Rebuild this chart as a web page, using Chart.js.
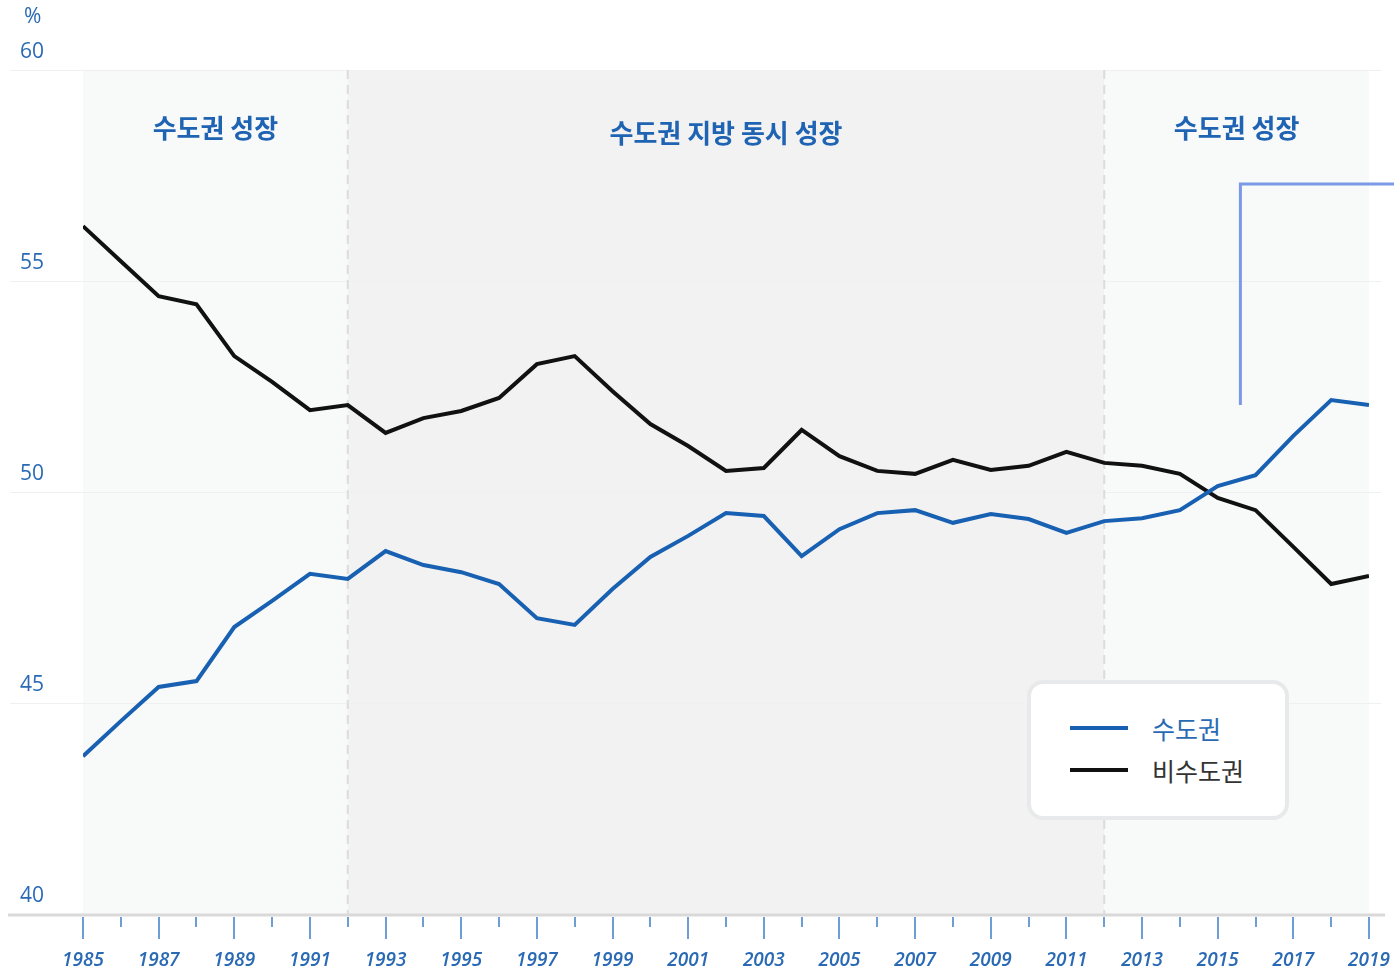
<!DOCTYPE html>
<html lang="ko">
<head>
<meta charset="utf-8">
<script src="https://cdn.jsdelivr.net/npm/chart.js@4/dist/chart.umd.min.js"></script>
<style>
  body { margin: 0; background: #fff; }
  #wrap { position: relative; width: 1394px; height: 970px; }
  #legend {
    position: absolute; left: 1027px; top: 680px; width: 254px; height: 132px;
    border: 4px solid #e8e9ea; border-radius: 16px; background: #fff;
    font-family: 'Noto Sans CJK KR', sans-serif; font-size: 25px;
  }
  .item { position: absolute; left: 39px; height: 30px; display: flex; align-items: center; }
  .item span.swatch { display: inline-block; width: 58px; height: 4px; margin-right: 24px; }
</style>
</head>
<body>
<div id="wrap">
  <canvas id="chart1" width="1394" height="970"></canvas>
  <div id="legend"></div>
</div>
<script>
// 연도
const years = [1985, 1986, 1987, 1988, 1989, 1990, 1991, 1992, 1993, 1994, 1995, 1996,
    1997, 1998, 1999, 2000, 2001, 2002, 2003, 2004, 2005, 2006, 2007, 2008, 2009, 2010,
    2011, 2012, 2013, 2014, 2015, 2016, 2017, 2018, 2019];

// 수도권 비중 (%)
const metroShare = [43.74, 44.57, 45.38, 45.52, 46.80, 47.42, 48.06, 47.94, 48.60, 48.27,
    48.10, 47.82, 47.01, 46.85, 47.70, 48.46, 48.96, 49.50, 49.43, 48.48, 49.12, 49.50,
    49.57, 49.27, 49.48, 49.36, 49.03, 49.31, 49.38, 49.57, 50.14, 50.40, 51.33, 52.18, 52.06];

// 비수도권 비중 (%)
const nonMetroShare = [56.30, 55.47, 54.64, 54.45, 53.22, 52.61, 51.94, 52.06, 51.40, 51.75,
    51.92, 52.23, 53.03, 53.22, 52.39, 51.61, 51.09, 50.50, 50.57, 51.47, 50.85, 50.50,
    50.43, 50.76, 50.52, 50.62, 50.95, 50.69, 50.62, 50.43, 49.86, 49.57, 48.70, 47.82, 48.01];

// 구간
const periodStart = [1985, 1992, 2012];
const periodEnd = [1992, 2012, 2019];
const periodNames = ['수도권 성장', '수도권 지방 동시 성장', '수도권 성장'];

// 강조 표시 (연도, 값)
const calloutYear = 2015.6;
const calloutFrom = 52.06;
const calloutTo = 57.3;

const seriesNames = ['수도권', '비수도권'];
const seriesColors = ['#1760b2', '#111111'];

const labelBlue = '#2a6ab5';
const FONT = "'Open Sans', 'Noto Sans CJK KR', sans-serif";

const decor = {
    id: 'decor',
    beforeDatasetsDraw(chart) {
        const { ctx, chartArea: a, scales: { x, y } } = chart;
        ctx.save();
        // 배경 구간
        periodStart.forEach((s, i) => {
            const x0 = x.getPixelForValue(s), x1 = x.getPixelForValue(periodEnd[i]);
            ctx.fillStyle = i === 1 ? '#f2f2f2' : '#f8f9f9';
            ctx.fillRect(x0, a.top, x1 - x0, a.bottom - a.top);
        });
        // 가로 눈금선
        ctx.strokeStyle = '#f0f0f0';
        ctx.lineWidth = 1;
        y.ticks.forEach(t => {
            const py = Math.round(y.getPixelForValue(t.value)) + 0.5;
            ctx.beginPath();
            ctx.moveTo(10, py);
            ctx.lineTo(a.right + 12, py);
            ctx.stroke();
        });
        // 구분 점선
        ctx.strokeStyle = '#dcdcdc';
        ctx.lineWidth = 2;
        ctx.setLineDash([9, 6]);
        [periodStart[1], periodStart[2]].forEach(v => {
            const px = x.getPixelForValue(v);
            ctx.beginPath();
            ctx.moveTo(px, a.top);
            ctx.lineTo(px, a.bottom);
            ctx.stroke();
        });
        ctx.setLineDash([]);
        // 구간 제목
        ctx.fillStyle = '#1f63b3';
        ctx.font = "bold 26px 'Noto Sans CJK KR', sans-serif";
        ctx.textAlign = 'center';
        ctx.textBaseline = 'middle';
        periodNames.forEach((n, i) => {
            const cx = x.getPixelForValue((periodStart[i] + periodEnd[i]) / 2);
            ctx.fillText(n, cx, a.top + (i === 1 ? 63 : 58));
        });
        ctx.restore();
    },
    afterDraw(chart) {
        const { ctx, chartArea: a, scales: { x, y } } = chart;
        ctx.save();
        // x축 선
        ctx.strokeStyle = '#d9d9d9';
        ctx.lineWidth = 3;
        ctx.beginPath();
        ctx.moveTo(8, a.bottom + 1);
        ctx.lineTo(a.right + 16, a.bottom + 1);
        ctx.stroke();
        // x축 눈금
        ctx.strokeStyle = '#6b9fd6';
        ctx.lineWidth = 2;
        x.ticks.forEach(t => {
            const px = Math.round(x.getPixelForValue(t.value));
            const len = t.value % 2 === 1 ? 22 : 10;
            ctx.beginPath();
            ctx.moveTo(px, a.bottom + 3);
            ctx.lineTo(px, a.bottom + 3 + len);
            ctx.stroke();
        });
        // 강조선
        ctx.strokeStyle = '#7a99e6';
        ctx.lineWidth = 3;
        const cx = x.getPixelForValue(calloutYear);
        const cy = y.getPixelForValue(calloutTo);
        ctx.beginPath();
        ctx.moveTo(cx, y.getPixelForValue(calloutFrom));
        ctx.lineTo(cx, cy);
        ctx.lineTo(chart.width, cy);
        ctx.stroke();
        // 단위
        ctx.fillStyle = labelBlue;
        ctx.font = '21px ' + FONT;
        ctx.textAlign = 'left';
        ctx.textBaseline = 'middle';
        ctx.fillText('%', y.left + 4, a.top - 53);
        ctx.restore();
    }
};

const ctx1 = document.getElementById('chart1').getContext('2d');
const chart1 = new Chart(ctx1, {
    type: 'line',
    data: {
        datasets: [metroShare, nonMetroShare].map((vals, i) => ({
            label: seriesNames[i],
            data: years.map((yr, j) => ({ x: yr, y: vals[j] })),
            borderColor: seriesColors[i],
            backgroundColor: seriesColors[i],
            borderWidth: 4,
            pointRadius: 0,
            tension: 0
        }))
    },
    options: {
        responsive: false,
        animation: false,
        layout: { padding: { left: 20, right: 25, top: 70, bottom: 0 } },
        plugins: { legend: { display: false }, tooltip: { enabled: false } },
        scales: {
            x: {
                type: 'linear',
                min: 1985,
                max: 2019,
                grid: { display: false },
                border: { display: false },
                afterFit: s => { s.height = 56; s.paddingLeft = 0; s.paddingRight = 0; },
                ticks: {
                    stepSize: 1,
                    autoSkip: false,
                    maxRotation: 0,
                    padding: 27,
                    color: labelBlue,
                    font: { family: FONT, size: 19, style: 'italic', weight: '600' },
                    callback: v => (v % 2 === 1 ? String(v) : '')
                }
            },
            y: {
                min: 40,
                max: 60,
                grid: { display: false },
                border: { display: false },
                afterFit: s => { s.width = 63; s.paddingTop = 0; s.paddingBottom = 0; },
                ticks: {
                    stepSize: 5,
                    crossAlign: 'far',
                    labelOffset: -18,
                    color: labelBlue,
                    font: { family: FONT, size: 21 }
                }
            }
        }
    },
    plugins: [decor]
});

// 범례
const legend = document.getElementById('legend');
seriesNames.forEach((n, i) => {
    const row = document.createElement('div');
    row.className = 'item';
    row.style.top = (i === 0 ? 29 : 71) + 'px';
    row.innerHTML = '<span class="swatch" style="background:' + seriesColors[i] + '"></span>' +
        '<span style="color:' + (i === 0 ? labelBlue : '#333') + '">' + n + '</span>';
    legend.appendChild(row);
});
</script>
</body>
</html>
